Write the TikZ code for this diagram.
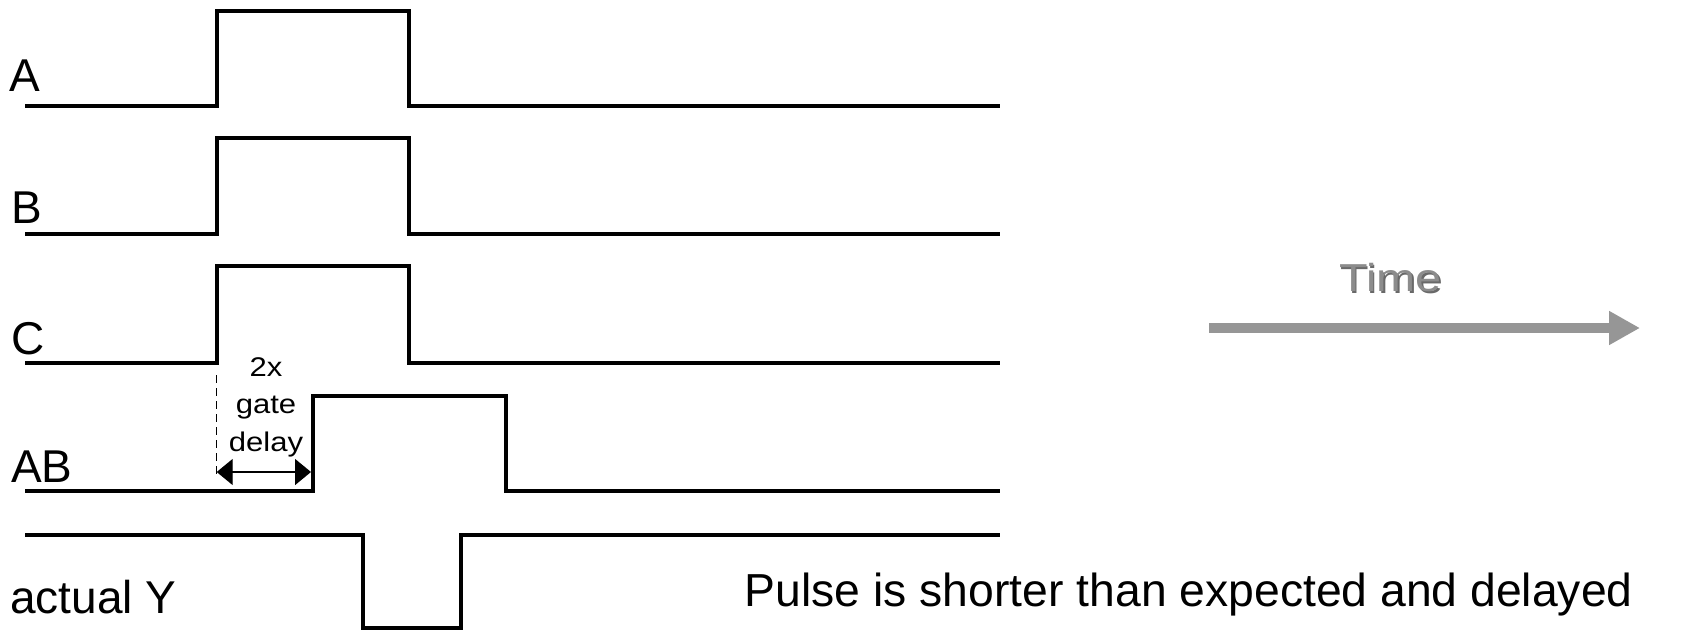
\documentclass[tikz,border=0pt]{standalone}
\usepackage{fontspec}
\setmainfont{Liberation Sans}
\usetikzlibrary{arrows.meta}
\definecolor{timegray}{RGB}{150,150,150}
\definecolor{timetext}{RGB}{140,140,140}
\definecolor{timeshadow}{RGB}{105,105,105}
\tikzset{
  wave/.style={line width=4pt, line join=miter, line cap=butt},
  siglabel/.style={anchor=base west, inner sep=0pt, font=\fontsize{46}{55}\selectfont},
  gdtext/.style={anchor=base, inner sep=0pt, font=\fontsize{27}{38}\selectfont},
  marker/.style={line width=1.5pt, dash pattern=on 8pt off 5pt},
  dim/.style={line width=1.4pt, {Triangle[length=16pt,width=26pt]}-{Triangle[length=16pt,width=26pt]}},
  timearrow/.style={line width=10pt, draw=timegray, -{Triangle[length=31pt,width=32pt]}}
}
\begin{document}
\begin{tikzpicture}[x=1pt,y=-1pt]
\useasboundingbox (0,0) rectangle (1683,631);
% waveforms
\draw[wave] (25,106) -- (216.5,106) -- (216.5,11) -- (408.5,11) -- (408.5,106) -- (1000,106);
\draw[wave] (25,234) -- (216.5,234) -- (216.5,138.5) -- (408.5,138.5) -- (408.5,234) -- (1000,234);
\draw[wave] (25,363) -- (216.5,363) -- (216.5,266) -- (408.5,266) -- (408.5,363) -- (1000,363);
\draw[wave] (25,491) -- (313,491) -- (313,396) -- (505.5,396) -- (505.5,491) -- (1000,491);
\draw[wave] (25,535) -- (363,535) -- (363,628) -- (460.5,628) -- (460.5,535) -- (1000,535);
% labels
\node[siglabel] (lA) at (9,92) {A};
\node[siglabel] (lB) at (11,223) {B};
\node[siglabel] (lC) at (11,354) {C};
\node[siglabel] (lAB) at (11,482) {AB};
\node[siglabel] (lY) at (10,613) {actual Y};
% gate delay annotation
\coordinate (dtop) at (216.7,375);
\coordinate (dbot) at (216.7,478);
\draw[marker] (dtop) -- (dbot);
\coordinate (dl) at (216.7,472);
\coordinate (dr) at (311,472);
\draw[dim] (dl) -- (dr);
\node[gdtext] (gd1) at (266,376) {\scalebox{1.15}[1]{2x}};
\node[gdtext] (gd2) at (266,413) {\scalebox{1.15}[1]{gate}};
\node[gdtext] (gd3) at (266,451.7) {\scalebox{1.15}[1]{delay}};
% time arrow
\coordinate (ts) at (1209,328);
\coordinate (te) at (1640,328);
\draw[timearrow] (ts) -- (te);
\node[anchor=base, inner sep=0pt, text=timeshadow, font=\fontsize{39}{47}\selectfont] (tsh) at (1392,293.2) {\scalebox{1.2}[1]{Time}};
\node[anchor=base, inner sep=0pt, text=timetext, font=\fontsize{39}{47}\selectfont] (time) at (1390.5,291.7) {\scalebox{1.2}[1]{Time}};
% note
\node[anchor=base west, inner sep=0pt, font=\fontsize{46.3}{55}\selectfont] (note) at (744.6,606.7) {Pulse is shorter than expected and delayed};
\end{tikzpicture}
\end{document}
